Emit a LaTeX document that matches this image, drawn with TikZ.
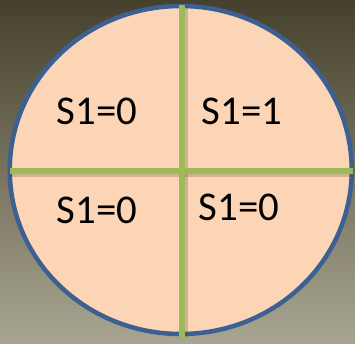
\documentclass[tikz,border=0pt]{standalone}
\usepackage{fontspec}
\setmainfont{Carlito}
\usepackage{xcolor}
\usetikzlibrary{positioning}

\definecolor{bgtop}{RGB}{70,65,44}
\definecolor{bgbot}{RGB}{168,165,146}
\definecolor{peach}{RGB}{251,213,181}
\definecolor{rimblue}{RGB}{60,96,145}
\definecolor{crossgreen}{RGB}{155,187,89}

\begin{document}
\begin{tikzpicture}[x=1bp, y=-1bp,
  lbl/.style={font=\fontsize{41}{41}\selectfont, text=black, inner sep=0pt},
  rim/.style={draw=rimblue, line width=4.5bp, fill=peach},
  bar/.style={draw=crossgreen, line width=6bp},
  barshadow/.style={draw=black!60!brown, line width=6bp, opacity=0.22}
]
\shade[top color=bgtop, bottom color=bgbot] (0,0) rectangle (355,344);
\useasboundingbox (0,0) rectangle (355,344);
\draw[rim] (180.75,170) ellipse [x radius=171, y radius=164];
\coordinate (top) at (182,5);
\coordinate (bot) at (182,337);
\coordinate (lft) at (10,171);
\coordinate (rgt) at (353,171);
\draw[barshadow] ([shift={(2.5,0)}]top) -- ([shift={(2.5,0)}]bot);
\draw[barshadow] ([shift={(0,2.5)}]lft) -- ([shift={(0,2.5)}]rgt);
\draw[bar] (top) -- (bot);
\draw[bar] (lft) -- (rgt);
\node[lbl] (tl) at (97,111.5) {S1=0};
\node[lbl] (tr) at (242,111.5) {S1=1};
\node[lbl] (bl) at (97,210) {S1=0};
\node[lbl] (br) at (239,207.5) {S1=0};
\end{tikzpicture}
\end{document}
